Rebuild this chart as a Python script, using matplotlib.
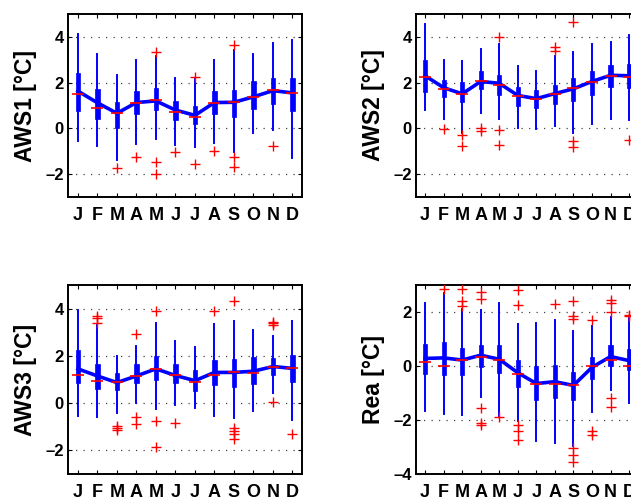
import numpy as np
import matplotlib
matplotlib.use('Agg')
import matplotlib.pyplot as plt

plt.rcParams['font.family'] = ['Liberation Sans', 'DejaVu Sans']
plt.rcParams['font.weight'] = 'bold'

months = ['J', 'F', 'M', 'A', 'M', 'J', 'J', 'A', 'S', 'O', 'N', 'D']

# ---- AWS1 monthly anomaly stats
aws1_whislo = [-0.55, -0.77, -1.39, -0.70, -0.48, -0.73, -0.80, -0.63, -1.05, -0.19, -0.07, -1.31]
aws1_q1 = [0.76, 0.42, 0.03, 0.64, 0.80, 0.37, 0.18, 0.61, 0.51, 0.83, 1.05, 0.76]
aws1_med = [1.52, 0.90, 0.69, 1.10, 1.23, 0.73, 0.51, 1.11, 1.17, 1.37, 1.68, 1.53]
aws1_q3 = [2.44, 1.74, 1.17, 1.64, 1.78, 1.20, 1.00, 1.64, 1.68, 2.07, 2.19, 2.22]
aws1_whishi = [4.12, 3.24, 2.35, 2.98, 3.17, 2.22, 2.15, 2.98, 3.43, 3.24, 3.75, 3.85]
aws1_mean = [1.63, 1.12, 0.66, 1.13, 1.20, 0.80, 0.57, 1.13, 1.14, 1.38, 1.65, 1.55]
aws1_out = [[], [], [-1.75], [-1.27], [3.33, -1.45, -2.0], [-1.02],
            [2.23, -1.57], [-0.98], [3.63, -1.27, -1.68], [], [-0.76], []]

# ---- AWS2
aws2_whislo = [0.79, 0.39, -0.19, 0.68, 0.39, 0.03, -0.01, 0.10, -0.20, 0.20, 0.42, 0.36]
aws2_q1 = [1.60, 1.37, 1.15, 1.70, 1.48, 0.97, 0.90, 1.05, 1.19, 1.48, 1.82, 1.77]
aws2_med = [2.25, 1.73, 1.51, 2.07, 1.91, 1.41, 1.27, 1.51, 1.77, 2.02, 2.28, 2.25]
aws2_q3 = [2.97, 2.12, 2.04, 2.50, 2.34, 1.82, 1.66, 1.91, 2.21, 2.53, 2.76, 2.80]
aws2_whishi = [4.58, 2.98, 2.94, 3.48, 3.67, 2.72, 2.53, 3.16, 3.33, 3.67, 3.77, 4.10]
aws2_mean = [2.30, 1.78, 1.51, 2.05, 1.97, 1.44, 1.30, 1.52, 1.73, 2.05, 2.32, 2.30]
aws2_out = [[], [-0.02], [-0.28, -0.75], [0.02, -0.10], [4.0, -0.07, -0.72], [],
            [], [3.40, 3.55], [4.65, -0.55, -0.80], [], [], [-0.50]]

# ---- AWS3
aws3_whislo = [-0.55, -0.58, -0.41, 0.01, -0.24, -0.06, -0.20, -0.55, -0.62, -0.34, 0.44, -0.72]
aws3_q1 = [0.86, 0.61, 0.55, 0.85, 0.97, 0.86, 0.51, 0.76, 0.69, 0.82, 1.20, 0.89]
aws3_med = [1.17, 0.93, 0.89, 1.14, 1.45, 1.17, 0.90, 1.17, 1.31, 1.29, 1.53, 1.48]
aws3_q3 = [2.23, 1.64, 1.29, 1.64, 2.00, 1.64, 1.40, 1.82, 1.85, 1.95, 1.89, 2.05]
aws3_whishi = [3.93, 3.30, 1.99, 2.42, 3.38, 2.63, 2.39, 3.36, 3.47, 3.08, 2.84, 3.47]
aws3_mean = [1.45, 1.15, 0.87, 1.15, 1.45, 1.17, 0.95, 1.30, 1.30, 1.35, 1.55, 1.47]
aws3_out = [[], [3.40, 3.60, 3.70], [-0.95, -1.05, -1.15], [2.92, -0.60, -0.90],
            [3.88, -0.75, -1.85], [-0.83], [], [3.88], [4.32, -1.05, -1.18, -1.30, -1.50],
            [], [3.30, 3.40, 3.45, 0.05], [-1.30]]

# ---- Reanalysis
rea_whislo = [-1.65, -1.77, -1.82, -1.13, -1.87, -2.05, -2.76, -2.86, -2.96, -1.72, -0.90, -1.37]
rea_q1 = [-0.30, -0.33, -0.33, -0.02, -0.26, -0.76, -1.25, -1.19, -1.25, -0.48, 0.00, -0.16]
rea_med = [0.14, 0.00, 0.24, 0.33, 0.24, -0.28, -0.66, -0.66, -0.72, 0.00, 0.24, 0.00]
rea_q3 = [0.82, 0.90, 0.66, 0.79, 0.77, 0.21, -0.01, 0.05, -0.21, 0.33, 0.76, 0.63]
rea_whishi = [2.34, 2.71, 2.10, 2.07, 2.34, 1.56, 1.60, 1.72, 1.31, 1.47, 1.82, 1.78]
rea_mean = [0.28, 0.30, 0.22, 0.40, 0.25, -0.25, -0.65, -0.58, -0.72, -0.05, 0.35, 0.20]
rea_out = [[], [2.85], [2.22, 2.40, 2.84], [2.50, 2.75, -1.55, -2.10, -2.20], [-1.90],
           [2.25, 2.80, -2.20, -2.40, -2.75], [], [2.30], [1.75, 1.85, 2.42, -3.05, -3.30, -3.55],
           [1.70, -2.40, -2.55], [2.00, 2.35, 2.45, -1.20, -1.50], [1.85, 1.90]]

panels = [
    ('AWS1 [°C]', aws1_whislo, aws1_q1, aws1_med, aws1_q3, aws1_whishi, aws1_mean, aws1_out, (-3, 5), [-2, 0, 2, 4]),
    ('AWS2 [°C]', aws2_whislo, aws2_q1, aws2_med, aws2_q3, aws2_whishi, aws2_mean, aws2_out, (-3, 5), [-2, 0, 2, 4]),
    ('AWS3 [°C]', aws3_whislo, aws3_q1, aws3_med, aws3_q3, aws3_whishi, aws3_mean, aws3_out, (-3, 5), [-2, 0, 2, 4]),
    ('Rea [°C]', rea_whislo, rea_q1, rea_med, rea_q3, rea_whishi, rea_mean, rea_out, (-4, 3), [-4, -2, 0, 2]),
]

# axes rectangles in figure fractions; right column runs past the edge
rects = [
    [0.108, 0.606, 0.371, 0.366],
    [0.659, 0.606, 0.3526, 0.366],
    [0.108, 0.052, 0.371, 0.378],
    [0.659, 0.052, 0.3526, 0.378],
]

fig = plt.figure(figsize=(6.31, 5.0), dpi=100)
x = np.arange(1, 13)

for rect, (ylab, wlo, q1, med, q3, whi, mean, out, ylim, yt) in zip(rects, panels):
    ax = fig.add_axes(rect)
    stats = []
    for i in range(12):
        stats.append(dict(med=med[i], q1=q1[i], q3=q3[i], whislo=wlo[i],
                          whishi=whi[i], fliers=np.array(out[i])))
    ax.bxp(stats, positions=x, widths=0.22, patch_artist=True, showcaps=False,
           showfliers=False, manage_ticks=False,
           boxprops=dict(facecolor='#0000ff', edgecolor='#0000ff', linewidth=0.5),
           whiskerprops=dict(color='#0000ff', linewidth=1.4),
           medianprops=dict(linewidth=0))
    ax.plot(x, mean, color='#0000ff', lw=2.6, zorder=3)
    ax.plot(x, med, ls='none', marker='_', ms=9, mew=1.2, color='#ff0000', zorder=4)
    for i in range(12):
        ax.plot([x[i]] * len(out[i]), out[i], ls='none', marker='+', ms=7,
                mew=1.0, color='#ff0000', zorder=5)

    ax.set_xlim(0.5, 12.5)
    ax.set_ylim(*ylim)
    ax.set_xticks(x)
    ax.set_xticklabels(months, fontsize=13, fontweight='bold')
    ax.set_yticks(yt)
    ax.set_yticklabels([str(v).replace('-', '\u2013') for v in yt], fontsize=12, fontweight='bold')
    ax.set_ylabel(ylab, fontsize=16.5, fontweight='bold', labelpad=6)
    ax.yaxis.grid(True, linestyle=(0, (1, 5)), color='#444444', linewidth=0.9)
    ax.tick_params(direction='in', length=3, width=0.8, top=True, right=True)
    ax.tick_params(axis='x', pad=7)
    ax.tick_params(axis='y', pad=3)
    for s in ax.spines.values():
        s.set_linewidth(1.4)

fig.savefig('out.png', dpi=100)
